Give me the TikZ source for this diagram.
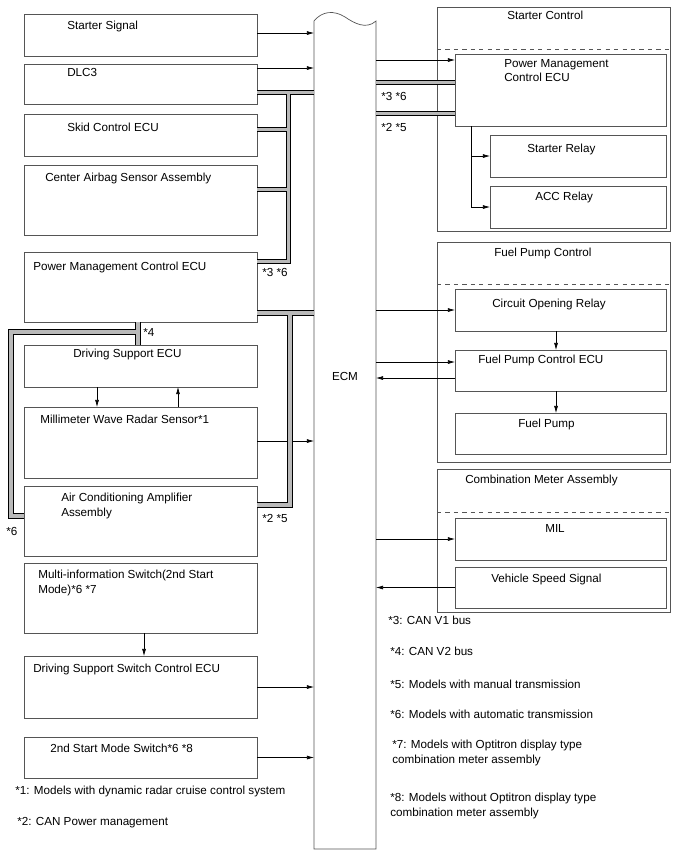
\documentclass[tikz,border=0pt]{standalone}
\usepackage{fontspec}
\setmainfont{Liberation Sans}
\usetikzlibrary{arrows.meta,positioning,calc}
\definecolor{BOX-GRAY}{RGB}{85,85,85}
\definecolor{BUS-FILL}{RGB}{185,185,185}

% block: name, left, top, right, bottom (pixel units)
\newcommand{\blk}[5]{%
  \node[blkbox, minimum width={(#4-#2)*0.25mm}, minimum height={(#5-#3)*0.25mm}]
    (#1) at ({(#2+#4)/2},{(#3+#5)/2}) {};}

\begin{document}
\begin{tikzpicture}[x=0.25mm, y=-0.25mm,
  blkbox/.style={draw=BOX-GRAY, line width=0.5pt, inner sep=0pt, outer sep=0pt},
  lbl/.style={anchor=north west, inner sep=0pt, align=left, font=\fontsize{8.3}{10.4}\selectfont},
  sig/.style={-{Latex[length=5pt,width=2.8pt]}, line width=0.45pt},
  bus/.style={draw=black, line width=0.9pt, double=BUS-FILL, double distance=2.2pt},
  sep/.style={BOX-GRAY, dashed, line width=0.5pt}]
  \useasboundingbox (0,0) rectangle (688,852);

  % left column
  \blk{ss}{24}{14}{257}{56}
  \node[lbl] (ss-t) at (67,21) {Starter Signal};
  \blk{dlc}{24}{64}{257}{104}
  \node[lbl] (dlc-t) at (67,68) {DLC3};
  \blk{skid}{24}{114}{257}{156}
  \node[lbl] (skid-t) at (67,123) {Skid Control ECU};
  \blk{bag}{24}{165}{257}{235}
  \node[lbl] (bag-t) at (45,173) {Center Airbag Sensor Assembly};
  \blk{pmc}{24}{252}{257}{322}
  \node[lbl] (pmc-t) at (33,262) {Power Management Control ECU};
  \blk{dse}{24}{345}{257}{387}
  \node[lbl] (dse-t) at (73,349) {Driving Support ECU};
  \blk{mmw}{24}{407}{257}{478}
  \node[lbl] (mmw-t) at (40,415) {Millimeter Wave Radar Sensor*1};
  \blk{ac}{24}{486}{257}{556}
  \node[lbl] (ac-t) at (61,493) {Air Conditioning Amplifier\\Assembly};
  \blk{multi}{24}{563}{257}{633}
  \node[lbl] (multi-t) at (38,570) {Multi-information Switch(2nd Start\\Mode)*6 *7};
  \blk{dssc}{24}{656}{257}{718}
  \node[lbl] (dssc-t) at (33,664) {Driving Support Switch Control ECU};
  \blk{sms}{24}{737}{257}{778}
  \node[lbl] (sms-t) at (50,744) {2nd Start Mode Switch*6 *8};

  % ECM
  \node[inner sep=0pt, outer sep=0pt, minimum width={62*0.25mm}, minimum height={828*0.25mm}] (ecm) at (345,435) {};
  \draw[BOX-GRAY, line width=0.5pt] (ecm.south west) -- (ecm.north west)
    .. controls (322,11) and (334,10) .. (345,17)
    .. controls (354,23) and (366,30) .. (ecm.north east) -- (ecm.south east) -- cycle;
  \node[font=\fontsize{8.3}{10.4}\selectfont] (ecm-t) at (345,376) {ECM};

  % starter control
  \blk{stc}{437}{7}{670}{231}
  \node[lbl] (stc-t) at (507,11) {Starter Control};
  \draw[sep] (stc.west |- 0,49) -- (stc.east |- 0,49);
  \blk{pmc2}{455}{54}{666}{126}
  \node[lbl] (pmc2-t) at (504,59) {Power Management\\Control ECU};
  \blk{sr}{490}{135}{666}{177}
  \node[lbl] (sr-t) at (527,144) {Starter Relay};
  \blk{acc}{490}{186}{666}{228}
  \node[lbl] (acc-t) at (535,192) {ACC Relay};

  % fuel pump control
  \blk{fpg}{437}{242}{670}{462}
  \node[lbl] (fpg-t) at (494,248) {Fuel Pump Control};
  \draw[sep] (fpg.west |- 0,284) -- (fpg.east |- 0,284);
  \blk{cor}{455}{289}{666}{331}
  \node[lbl] (cor-t) at (492,299) {Circuit Opening Relay};
  \blk{fpc}{455}{350}{666}{391}
  \node[lbl] (fpc-t) at (478,355) {Fuel Pump Control ECU};
  \blk{fp}{455}{413}{666}{454}
  \node[lbl] (fp-t) at (518,419) {Fuel Pump};

  % combination meter
  \blk{cmg}{437}{469}{670}{612}
  \node[lbl] (cmg-t) at (465,475) {Combination Meter Assembly};
  \draw[sep] (cmg.west |- 0,512) -- (cmg.east |- 0,512);
  \blk{mil}{455}{518}{666}{560}
  \node[lbl] (mil-t) at (545,524) {MIL};
  \blk{vss}{455}{567}{666}{608}
  \node[lbl] (vss-t) at (491,574) {Vehicle Speed Signal};

  % signals into ECM
  \draw[sig] (ss.east |- 0,33) -- (ecm.west |- 0,33);
  \draw[sig] (dlc.east |- 0,68) -- (ecm.west |- 0,68);
  \draw[sig] (mmw.east |- 0,441) -- (ecm.west |- 0,441);
  \draw[sig] (dssc.east) -- (ecm.west |- dssc.east);
  \draw[sig] (sms.east) -- (ecm.west |- sms.east);
  \draw[sig] (dse.south -| 97,0) -- (mmw.north -| 97,0);
  \draw[sig] (mmw.north -| 178,0) -- (dse.south -| 178,0);
  \draw[sig] (multi.south -| 144,0) -- (dssc.north -| 144,0);

  % signals out of ECM
  \draw[sig] (ecm.east |- 0,60) -- (pmc2.west |- 0,60);
  \draw[sig] (pmc2.south -| 471,0) |- (sr.west);
  \draw[sig] (pmc2.south -| 471,0) |- (acc.west);
  \draw[sig] (ecm.east |- cor.west) -- (cor.west);
  \draw[sig] (ecm.east |- 0,362) -- (fpc.west |- 0,362);
  \draw[sig] (fpc.west |- 0,378) -- (ecm.east |- 0,378);
  \draw[sig] (cor.south -| 556,0) -- (fpc.north -| 556,0);
  \draw[sig] (fpc.south -| 556,0) -- (fp.north -| 556,0);
  \draw[sig] (ecm.east |- mil.west) -- (mil.west);
  \draw[sig] (vss.west) -- (ecm.east |- vss.west);

  % CAN V1 bus
  \draw[bus] (ecm.west |- 0,92.5) -- (dlc.east |- 0,92.5)
    (288.5,92.5) -- (288.5,261.5) -- (pmc.east |- 0,261.5)
    (288.5,129.5) -- (skid.east |- 0,129.5)
    (288.5,189.5) -- (bag.east |- 0,189.5);
  \draw[bus] (ecm.east |- 0,82.5) -- (pmc2.west |- 0,82.5);
  % CAN power management
  \draw[bus] (ecm.west |- 0,313) -- (pmc.east |- 0,313)
    (290,313) -- (290,505) -- (ac.east |- 0,505);
  \draw[bus] (ecm.east |- 0,113.5) -- (pmc2.west |- 0,113.5);
  % CAN V2 bus
  \draw[bus] (pmc.south -| 138,0) -- (dse.north -| 138,0)
    (138,332) -- (11,332) -- (11,516) -- (ac.west |- 0,516);

  % bus marks
  \node[lbl] (m36r) at (381,92) {*3 *6};
  \node[lbl] (m25r) at (381,123) {*2 *5};
  \node[lbl] (m36l) at (262,268) {*3 *6};
  \node[lbl] (m25l) at (262,514) {*2 *5};
  \node[lbl] (m4) at (143,328) {*4};
  \node[lbl] (m6) at (6,527) {*6};

  % notes
  \node[lbl] (n1) at (15,786) {*1: Models with dynamic radar cruise control system};
  \node[lbl] (n2) at (17,817) {*2: CAN Power management};
  \node[lbl] (n3) at (388,616) {*3: CAN V1 bus};
  \node[lbl] (n4) at (390,647) {*4: CAN V2 bus};
  \node[lbl] (n5) at (390,680) {*5: Models with manual transmission};
  \node[lbl] (n6) at (390,710) {*6: Models with automatic transmission};
  \node[lbl] (n7) at (392,740) {*7: Models with Optitron display type\\combination meter assembly};
  \node[lbl] (n8) at (390,793) {*8: Models without Optitron display type\\combination meter assembly};
\end{tikzpicture}
\end{document}
